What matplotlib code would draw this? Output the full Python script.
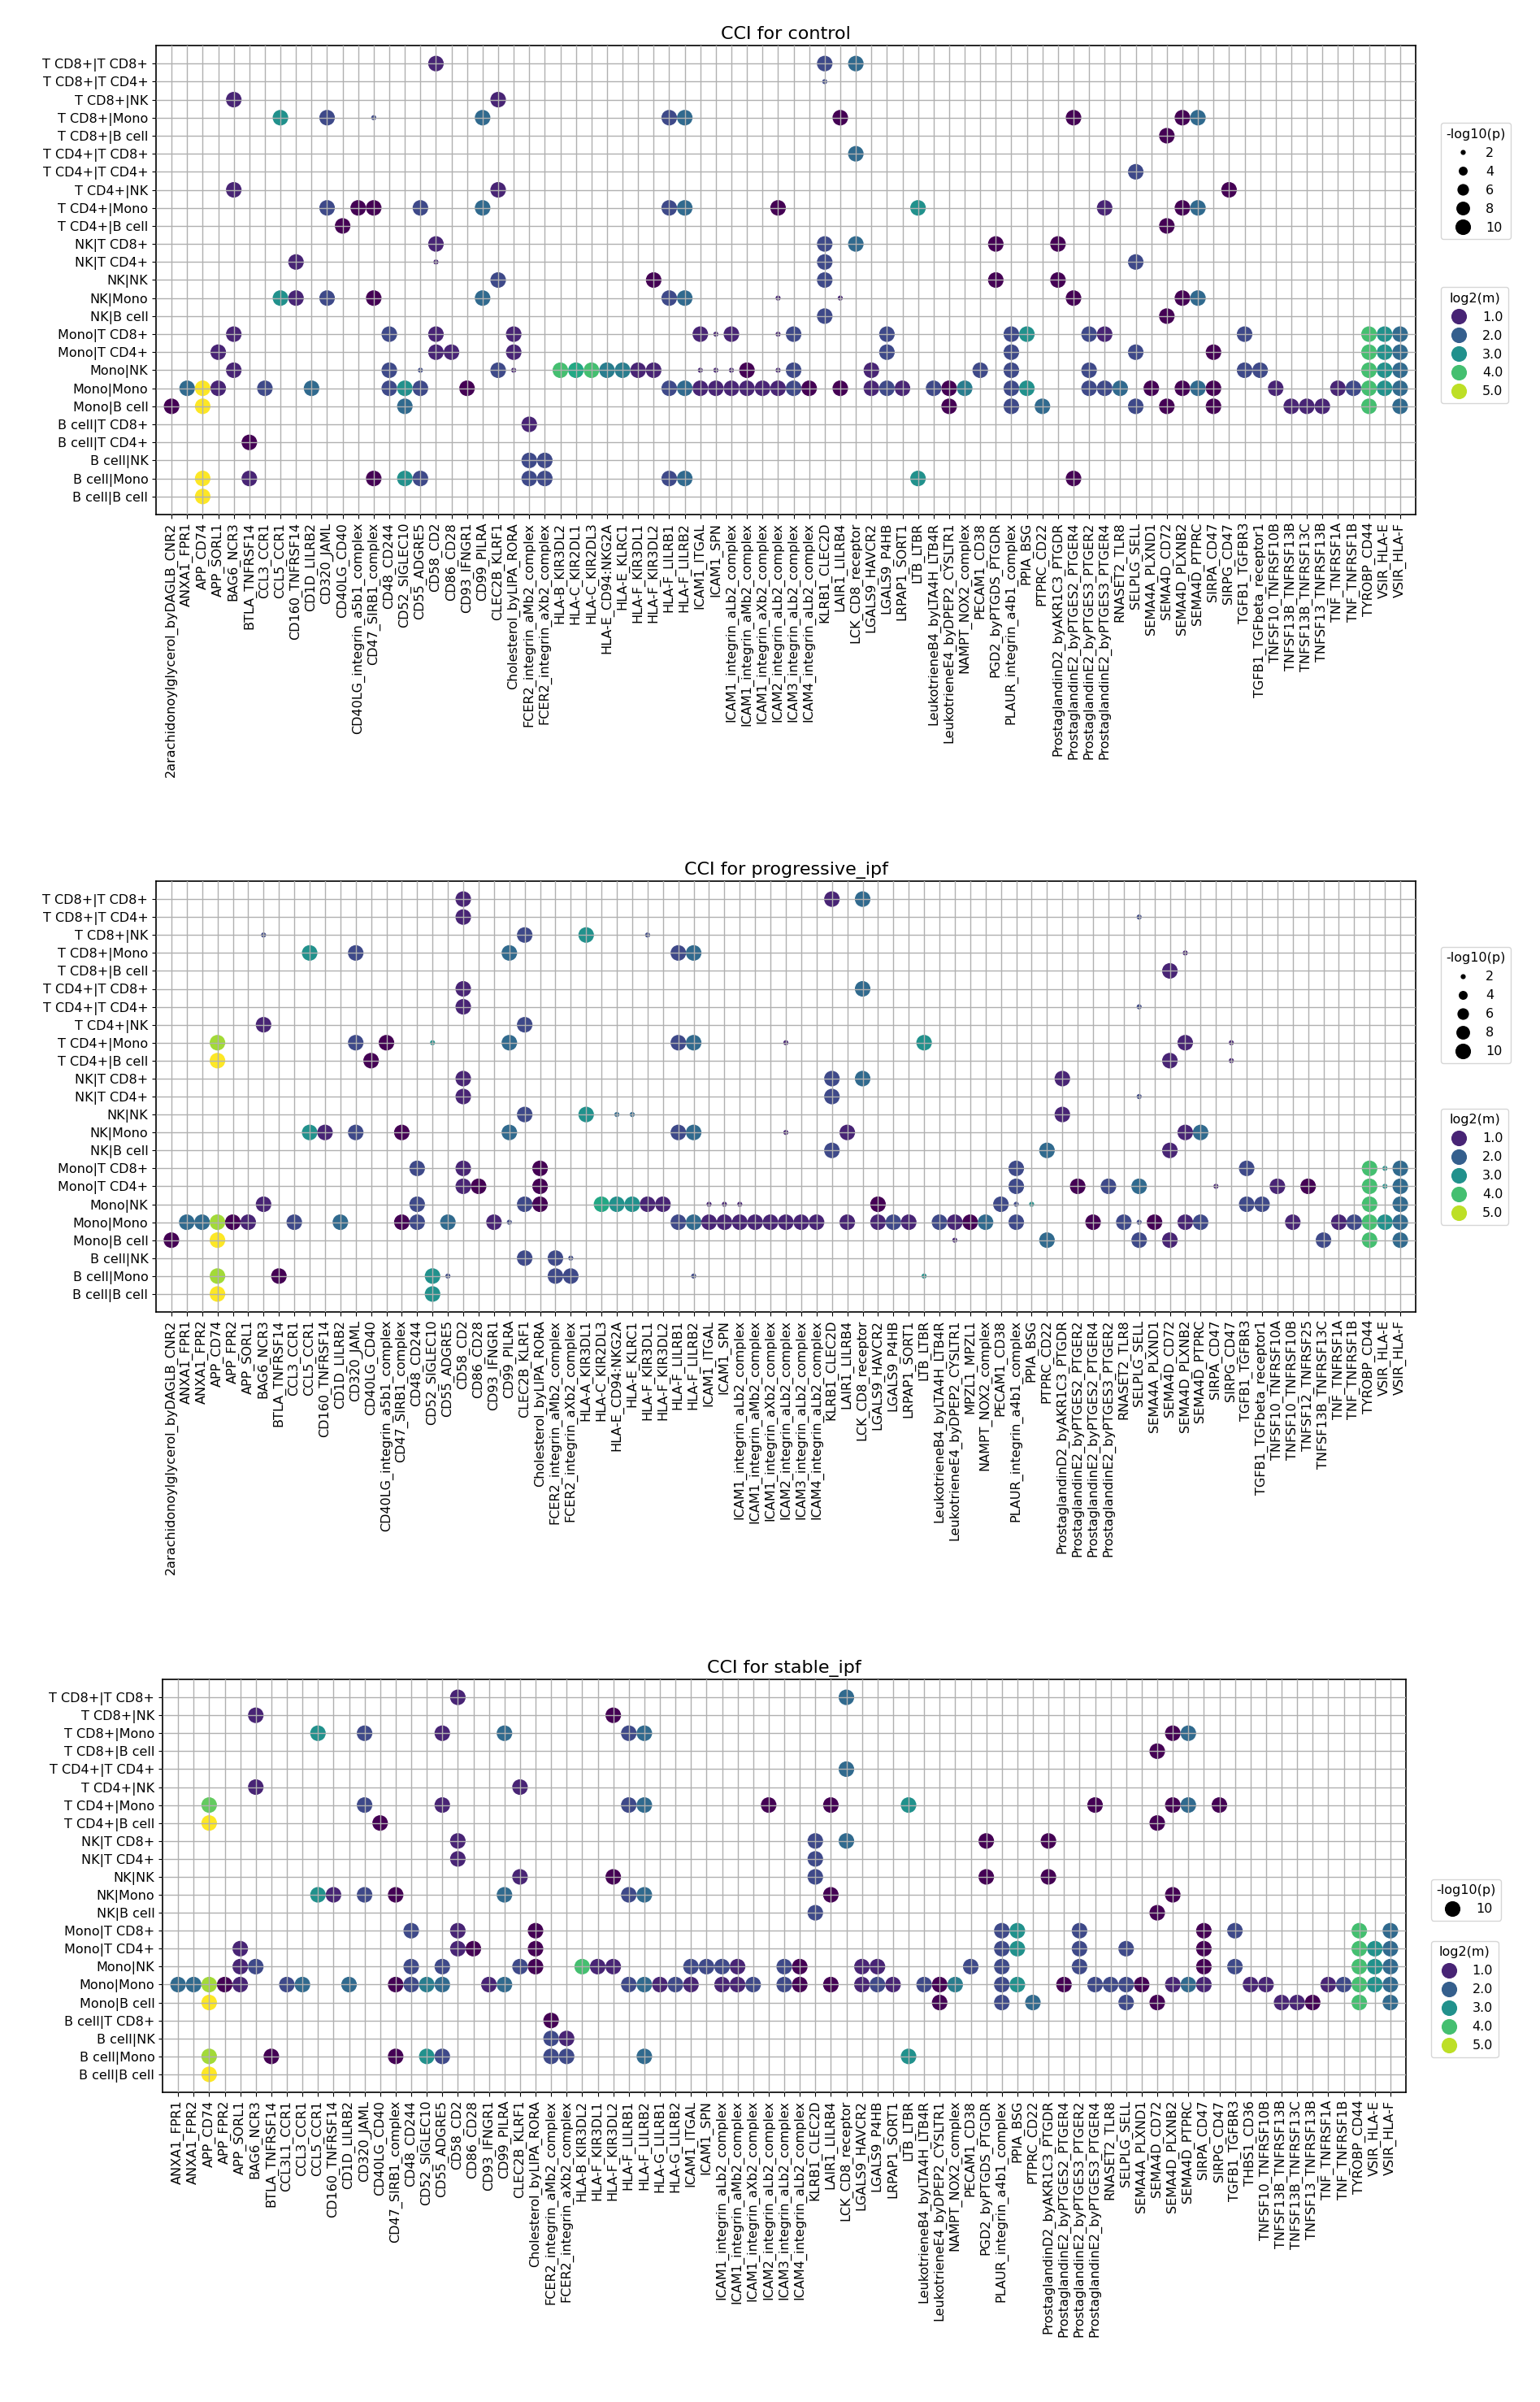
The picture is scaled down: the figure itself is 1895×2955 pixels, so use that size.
import matplotlib
matplotlib.use("Agg")
import matplotlib.pyplot as plt
from matplotlib.colors import Normalize
from matplotlib.lines import Line2D
import numpy as np

# ---------------- data ----------------
ctrl_rows = ["T CD8+|T CD8+", "T CD8+|T CD4+", "T CD8+|NK", "T CD8+|Mono", "T CD8+|B cell",
             "T CD4+|T CD8+", "T CD4+|T CD4+", "T CD4+|NK", "T CD4+|Mono", "T CD4+|B cell",
             "NK|T CD8+", "NK|T CD4+", "NK|NK", "NK|Mono", "NK|B cell",
             "Mono|T CD8+", "Mono|T CD4+", "Mono|NK", "Mono|Mono", "Mono|B cell",
             "B cell|T CD8+", "B cell|T CD4+", "B cell|NK", "B cell|Mono", "B cell|B cell"]
ctrl_cols = ["2arachidonoylglycerol_byDAGLB_CNR2", "ANXA1_FPR1", "APP_CD74", "APP_SORL1", "BAG6_NCR3",
             "BTLA_TNFRSF14", "CCL3_CCR1", "CCL5_CCR1", "CD160_TNFRSF14", "CD1D_LILRB2", "CD320_JAML",
             "CD40LG_CD40", "CD40LG_integrin_a5b1_complex", "CD47_SIRB1_complex", "CD48_CD244",
             "CD52_SIGLEC10", "CD55_ADGRE5", "CD58_CD2", "CD86_CD28", "CD93_IFNGR1", "CD99_PILRA",
             "CLEC2B_KLRF1", "Cholesterol_byLIPA_RORA", "FCER2_integrin_aMb2_complex",
             "FCER2_integrin_aXb2_complex", "HLA-B_KIR3DL2", "HLA-C_KIR2DL1", "HLA-C_KIR2DL3",
             "HLA-E_CD94:NKG2A", "HLA-E_KLRC1", "HLA-F_KIR3DL1", "HLA-F_KIR3DL2", "HLA-F_LILRB1",
             "HLA-F_LILRB2", "ICAM1_ITGAL", "ICAM1_SPN", "ICAM1_integrin_aLb2_complex",
             "ICAM1_integrin_aMb2_complex", "ICAM1_integrin_aXb2_complex", "ICAM2_integrin_aLb2_complex",
             "ICAM3_integrin_aLb2_complex", "ICAM4_integrin_aLb2_complex", "KLRB1_CLEC2D", "LAIR1_LILRB4",
             "LCK_CD8_receptor", "LGALS9_HAVCR2", "LGALS9_P4HB", "LRPAP1_SORT1", "LTB_LTBR",
             "LeukotrieneB4_byLTA4H_LTB4R", "LeukotrieneE4_byDPEP2_CYSLTR1", "NAMPT_NOX2_complex",
             "PECAM1_CD38", "PGD2_byPTGDS_PTGDR", "PLAUR_integrin_a4b1_complex", "PPIA_BSG", "PTPRC_CD22",
             "ProstaglandinD2_byAKR1C3_PTGDR", "ProstaglandinE2_byPTGES2_PTGER4",
             "ProstaglandinE2_byPTGES3_PTGER2", "ProstaglandinE2_byPTGES3_PTGER4", "RNASET2_TLR8",
             "SELPLG_SELL", "SEMA4A_PLXND1", "SEMA4D_CD72", "SEMA4D_PLXNB2", "SEMA4D_PTPRC", "SIRPA_CD47",
             "SIRPG_CD47", "TGFB1_TGFBR3", "TGFB1_TGFbeta_receptor1", "TNFSF10_TNFRSF10B",
             "TNFSF13B_TNFRSF13B", "TNFSF13B_TNFRSF13C", "TNFSF13_TNFRSF13B", "TNF_TNFRSF1A",
             "TNF_TNFRSF1B", "TYROBP_CD44", "VSIR_HLA-E", "VSIR_HLA-F"]

prog_rows = ["T CD8+|T CD8+", "T CD8+|T CD4+", "T CD8+|NK", "T CD8+|Mono", "T CD8+|B cell",
             "T CD4+|T CD8+", "T CD4+|T CD4+", "T CD4+|NK", "T CD4+|Mono", "T CD4+|B cell",
             "NK|T CD8+", "NK|T CD4+", "NK|NK", "NK|Mono", "NK|B cell",
             "Mono|T CD8+", "Mono|T CD4+", "Mono|NK", "Mono|Mono", "Mono|B cell",
             "B cell|NK", "B cell|Mono", "B cell|B cell"]
prog_cols = ["2arachidonoylglycerol_byDAGLB_CNR2", "ANXA1_FPR1", "ANXA1_FPR2", "APP_CD74", "APP_FPR2",
             "APP_SORL1", "BAG6_NCR3", "BTLA_TNFRSF14", "CCL3_CCR1", "CCL5_CCR1", "CD160_TNFRSF14",
             "CD1D_LILRB2", "CD320_JAML", "CD40LG_CD40", "CD40LG_integrin_a5b1_complex",
             "CD47_SIRB1_complex", "CD48_CD244", "CD52_SIGLEC10", "CD55_ADGRE5", "CD58_CD2", "CD86_CD28",
             "CD93_IFNGR1", "CD99_PILRA", "CLEC2B_KLRF1", "Cholesterol_byLIPA_RORA",
             "FCER2_integrin_aMb2_complex", "FCER2_integrin_aXb2_complex", "HLA-A_KIR3DL1",
             "HLA-C_KIR2DL3", "HLA-E_CD94:NKG2A", "HLA-E_KLRC1", "HLA-F_KIR3DL1", "HLA-F_KIR3DL2",
             "HLA-F_LILRB1", "HLA-F_LILRB2", "ICAM1_ITGAL", "ICAM1_SPN", "ICAM1_integrin_aLb2_complex",
             "ICAM1_integrin_aMb2_complex", "ICAM1_integrin_aXb2_complex", "ICAM2_integrin_aLb2_complex",
             "ICAM3_integrin_aLb2_complex", "ICAM4_integrin_aLb2_complex", "KLRB1_CLEC2D", "LAIR1_LILRB4",
             "LCK_CD8_receptor", "LGALS9_HAVCR2", "LGALS9_P4HB", "LRPAP1_SORT1", "LTB_LTBR",
             "LeukotrieneB4_byLTA4H_LTB4R", "LeukotrieneE4_byDPEP2_CYSLTR1", "MPZL1_MPZL1",
             "NAMPT_NOX2_complex", "PECAM1_CD38", "PLAUR_integrin_a4b1_complex", "PPIA_BSG", "PTPRC_CD22",
             "ProstaglandinD2_byAKR1C3_PTGDR", "ProstaglandinE2_byPTGES2_PTGER2",
             "ProstaglandinE2_byPTGES2_PTGER4", "ProstaglandinE2_byPTGES3_PTGER2", "RNASET2_TLR8",
             "SELPLG_SELL", "SEMA4A_PLXND1", "SEMA4D_CD72", "SEMA4D_PLXNB2", "SEMA4D_PTPRC", "SIRPA_CD47",
             "SIRPG_CD47", "TGFB1_TGFBR3", "TGFB1_TGFbeta_receptor1", "TNFSF10_TNFRSF10A",
             "TNFSF10_TNFRSF10B", "TNFSF12_TNFRSF25", "TNFSF13B_TNFRSF13C", "TNF_TNFRSF1A",
             "TNF_TNFRSF1B", "TYROBP_CD44", "VSIR_HLA-E", "VSIR_HLA-F"]

stab_rows = ["T CD8+|T CD8+", "T CD8+|NK", "T CD8+|Mono", "T CD8+|B cell",
             "T CD4+|T CD4+", "T CD4+|NK", "T CD4+|Mono", "T CD4+|B cell",
             "NK|T CD8+", "NK|T CD4+", "NK|NK", "NK|Mono", "NK|B cell",
             "Mono|T CD8+", "Mono|T CD4+", "Mono|NK", "Mono|Mono", "Mono|B cell",
             "B cell|T CD8+", "B cell|NK", "B cell|Mono", "B cell|B cell"]
stab_cols = ["ANXA1_FPR1", "ANXA1_FPR2", "APP_CD74", "APP_FPR2", "APP_SORL1", "BAG6_NCR3",
             "BTLA_TNFRSF14", "CCL3L1_CCR1", "CCL3_CCR1", "CCL5_CCR1", "CD160_TNFRSF14", "CD1D_LILRB2",
             "CD320_JAML", "CD40LG_CD40", "CD47_SIRB1_complex", "CD48_CD244", "CD52_SIGLEC10",
             "CD55_ADGRE5", "CD58_CD2", "CD86_CD28", "CD93_IFNGR1", "CD99_PILRA", "CLEC2B_KLRF1",
             "Cholesterol_byLIPA_RORA", "FCER2_integrin_aMb2_complex", "FCER2_integrin_aXb2_complex",
             "HLA-B_KIR3DL2", "HLA-F_KIR3DL1", "HLA-F_KIR3DL2", "HLA-F_LILRB1", "HLA-F_LILRB2",
             "HLA-G_LILRB1", "HLA-G_LILRB2", "ICAM1_ITGAL", "ICAM1_SPN", "ICAM1_integrin_aLb2_complex",
             "ICAM1_integrin_aMb2_complex", "ICAM1_integrin_aXb2_complex", "ICAM2_integrin_aLb2_complex",
             "ICAM3_integrin_aLb2_complex", "ICAM4_integrin_aLb2_complex", "KLRB1_CLEC2D", "LAIR1_LILRB4",
             "LCK_CD8_receptor", "LGALS9_HAVCR2", "LGALS9_P4HB", "LRPAP1_SORT1", "LTB_LTBR",
             "LeukotrieneB4_byLTA4H_LTB4R", "LeukotrieneE4_byDPEP2_CYSLTR1", "NAMPT_NOX2_complex",
             "PECAM1_CD38", "PGD2_byPTGDS_PTGDR", "PLAUR_integrin_a4b1_complex", "PPIA_BSG", "PTPRC_CD22",
             "ProstaglandinD2_byAKR1C3_PTGDR", "ProstaglandinE2_byPTGES2_PTGER4",
             "ProstaglandinE2_byPTGES3_PTGER2", "ProstaglandinE2_byPTGES3_PTGER4", "RNASET2_TLR8",
             "SELPLG_SELL", "SEMA4A_PLXND1", "SEMA4D_CD72", "SEMA4D_PLXNB2", "SEMA4D_PTPRC", "SIRPA_CD47",
             "SIRPG_CD47", "TGFB1_TGFBR3", "THBS1_CD36", "TNFSF10_TNFRSF10B", "TNFSF13B_TNFRSF13B",
             "TNFSF13B_TNFRSF13C", "TNFSF13_TNFRSF13B", "TNF_TNFRSF1A", "TNF_TNFRSF1B", "TYROBP_CD44",
             "VSIR_HLA-E", "VSIR_HLA-F"]

# log2(m) levels
LV = {"d": 0.4, "p": 1.0, "i": 1.6, "b": 2.2, "B": 2.6, "t": 3.0, "T": 3.5, "g": 4.0, "G": 4.3,
      "l": 4.8, "y": 5.5}

# points per row: "col+level" (suffix 's' = -log10(p) of 2, else 10)
ctrl_pts = {
    0: "17p 42i 44b", 1: "42is", 2: "4p 21p",
    3: "7t 10i 13is 20b 32i 33b 43d 58d 65d 66b", 4: "64d", 5: "44b", 6: "62i",
    7: "4p 21p 68d", 8: "10i 12d 13d 16i 20b 32i 33b 39d 48t 60p 65d 66b", 9: "11d 64d",
    10: "17p 42i 44b 53d 57d", 11: "8p 17ps 42i 62i", 12: "21i 31d 42i 53d 57d",
    13: "7t 8p 10i 13d 20b 32i 33b 39ps 43ps 58d 65d 66b", 14: "42i 64d",
    15: "4p 14i 17p 22p 34p 35ps 36p 39ps 40i 46i 54i 55t 59i 60p 69i 77g 78t 79b",
    16: "3p 17p 18p 22p 46i 54i 62i 67d 77g 78t 79b",
    17: "4p 14i 16is 21i 22ps 25g 26T 27g 28B 29B 30p 31p 34ps 35ps 36ps 37d 39ps 40i 45p 52i 54i 59i 69i 70i 77g 78t 79b",
    18: "1b 2y 3p 6i 9b 14i 15t 16i 19d 32i 33b 34p 35p 36p 37p 38p 39p 40i 41d 43d 45p 46i 47p 49i 50d 51B 54i 55t 59i 60i 61b 63d 65d 66b 67d 71p 75p 76i 77g 78t 79b",
    19: "0d 2y 15b 50d 54i 56b 62i 64d 67d 72p 73p 74p 77g 79b",
    20: "23p", 21: "5d", 22: "23i 24i",
    23: "2y 5p 13d 15t 16i 23i 24i 32i 33b 48t 58d", 24: "2y",
}
prog_pts = {
    0: "19p 43p 45b", 1: "19p 63is", 2: "6is 23i 27t 31is",
    3: "9t 12i 22b 33i 34b 66ps", 4: "65p", 5: "19p 45b", 6: "19p 63is", 7: "6p 23i",
    8: "3l 12i 14d 17ts 22b 33i 34b 40ps 49t 66p 69ps", 9: "3y 13d 65p 69ps",
    10: "19p 43i 45b 58p", 11: "19p 43i 63is", 12: "23i 27t 29bs 30bs 58p",
    13: "9t 10p 12i 15d 22b 33i 34b 40ps 44p 66p 67b", 14: "43i 57b 65p",
    15: "16i 19p 24d 55i 70i 78g 79ts 80b",
    16: "19p 20d 24d 55i 59d 61i 63b 68ps 72p 74d 78g 79ts 80b",
    17: "6p 16i 23i 24d 28T 29t 30t 31p 32p 35ps 36ps 37ps 46d 54i 55is 56ts 70i 71i 78g 80b",
    18: "1b 2b 3l 4d 5p 8i 11b 15d 16i 18b 21p 22is 33i 34b 35p 36p 37p 38p 39p 40p 41p 42p 44p 46p 47i 48p 50i 51p 52d 53b 55i 60d 62i 63is 64d 66p 67i 73p 76p 77i 78g 79t 80b",
    19: "0d 3y 51ps 57b 63i 65p 75i 78g 80b",
    20: "23i 25i 26is", 21: "3l 7d 17t 18is 25i 26i 34is 49ts", 22: "3y 17t",
}
stab_pts = {
    0: "18p 43b", 1: "5p 28d", 2: "9t 12i 17p 21b 29i 30b 64d 65b", 3: "63d", 4: "43b",
    5: "5p 22p", 6: "2G 12i 17p 29i 30b 38d 42d 47t 59d 64d 65b 67d", 7: "2y 13d 63d",
    8: "18p 41i 43b 52d 56d", 9: "18p 41i", 10: "22p 28d 41i 52d 56d",
    11: "9t 10p 12i 14d 21b 29i 30b 42d 64d", 12: "41i 63d",
    13: "15i 18p 23d 53i 54t 58i 66d 68i 76g 78b",
    14: "4p 18p 19d 23d 53i 54t 58i 61i 66d 76g 77t 78b",
    15: "4p 5i 15i 17i 22i 23d 26g 27p 28p 33i 34i 35i 36p 39i 40d 44p 45p 51i 53i 58i 66d 68i 76g 77t 78b",
    16: "0b 1b 2l 3d 4p 7i 8b 11b 14d 15i 16B 17b 20p 21b 29i 30b 31p 32i 33p 35p 36p 37i 39i 40d 42d 44p 45i 46p 48i 49d 50B 53i 54t 57d 59i 60i 61i 62d 64p 65b 66p 69p 70p 74p 75i 76g 77t 78b",
    17: "2y 49d 53i 55b 61i 63d 71p 72p 73d 76g 78b",
    18: "24d", 19: "24i 25p", 20: "2l 6d 14d 16t 17i 24i 25i 30b 47t", 21: "2y",
}

size_levels = [2, 4, 6, 8, 10]
color_levels = [1.0, 2.0, 3.0, 4.0, 5.0]

# ---------------- drawing ----------------
W, H = 1895, 2955
fig = plt.figure(figsize=(W / 100, H / 100), dpi=100)
cmap = plt.get_cmap("viridis")
norm = Normalize(vmin=0.5, vmax=5.5)
FS = 11.5


def sz(p):
    return 20 + (p - 2) / 8.0 * 170


def parse(pts):
    xs, ys, ms, ps = [], [], [], []
    for r, s in pts.items():
        for tok in s.split():
            small = tok.endswith("s")
            if small:
                tok = tok[:-1]
            c, lv = int(tok[:-1]), tok[-1]
            xs.append(c); ys.append(r); ms.append(LV[lv]); ps.append(2 if small else 10)
    return np.array(xs), np.array(ys), np.array(ms), np.array(ps)


panels = [
    ("CCI for control", ctrl_rows, ctrl_cols, ctrl_pts, [192, 56, 1742, 633], size_levels, (0.835, 0.485)),
    ("CCI for progressive_ipf", prog_rows, prog_cols, prog_pts, [192, 1084, 1742, 1614], size_levels, (0.847, 0.472)),
    ("CCI for stable_ipf", stab_rows, stab_cols, stab_pts, [200, 2066, 1730, 2574], [10], (0.516, 0.366)),
]

for title, rows, cols, pts, (x0, y0, x1, y1), slev, (ly1, ly2) in panels:
    ax = fig.add_axes([x0 / W, 1 - y1 / H, (x1 - x0) / W, (y1 - y0) / H])
    xs, ys, ms, ps = parse(pts)
    ax.scatter(xs, ys, s=sz(ps), c=ms, cmap=cmap, norm=norm, linewidths=0, zorder=1)
    ax.set_xticks(range(len(cols)))
    ax.set_xticklabels(cols, rotation=90, fontsize=FS)
    ax.set_yticks(range(len(rows)))
    ax.set_yticklabels(rows, fontsize=FS)
    ax.set_xlim(-1, len(cols))
    ax.set_ylim(len(rows), -1)
    ax.set_axisbelow(False)
    ax.grid(True, color="#b0b0b0", linewidth=1.0)
    ax.set_title(title, fontsize=16)
    for sp in ax.spines.values():
        sp.set_linewidth(1.2)

    sh = [Line2D([], [], marker="o", ls="", color="black", markeredgewidth=0,
                 markersize=np.sqrt(sz(v))) for v in slev]
    leg1 = ax.legend(sh, [str(v) for v in slev], title="-log10(p)", loc="upper left",
                     bbox_to_anchor=(1.02, ly1), fontsize=FS, title_fontsize=FS,
                     frameon=True, borderaxespad=0)
    ax.add_artist(leg1)
    ch = [Line2D([], [], marker="o", ls="", color=cmap(norm(v)), markeredgewidth=0,
                 markersize=np.sqrt(sz(10))) for v in color_levels]
    ax.legend(ch, [f"{v:.1f}" for v in color_levels], title="log2(m)", loc="upper left",
              bbox_to_anchor=(1.02, ly2), fontsize=FS, title_fontsize=FS,
              frameon=True, borderaxespad=0)

fig.savefig("out.png", dpi=100)
